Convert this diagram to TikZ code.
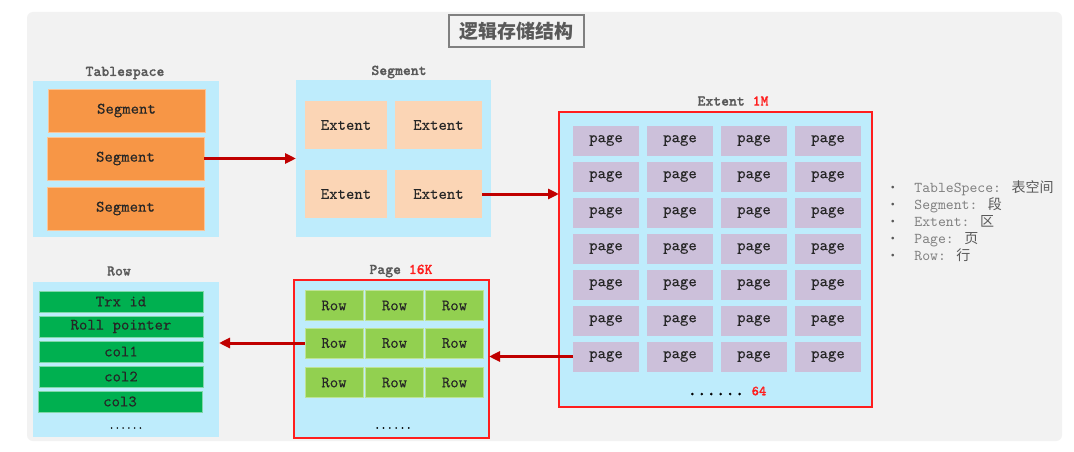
\documentclass[tikz,border=0pt]{standalone}
\usepackage{fontspec}
\newfontfamily\cjk{Noto Sans CJK SC}
\newfontfamily\itemmono{lmmono10-regular.otf}[FakeBold=0.15]
\newfontfamily\lgdmono{lmmono10-regular.otf}
\newfontfamily\lblmono{lmmonolt10-bold.otf}[FakeBold=0.8]
\usetikzlibrary{arrows.meta}

\definecolor{panelgray}{RGB}{242,242,242}
\definecolor{boxblue}{RGB}{190,236,252}
\definecolor{segorange}{RGB}{247,150,70}
\definecolor{extpeach}{RGB}{251,213,181}
\definecolor{pagepurple}{RGB}{204,192,218}
\definecolor{rowgreen}{RGB}{146,208,80}
\definecolor{fldgreen}{RGB}{0,176,80}
\definecolor{linkred}{RGB}{192,0,0}
\definecolor{framered}{RGB}{255,30,30}
\definecolor{lblgray}{RGB}{89,89,89}
\definecolor{lgdgray}{RGB}{128,128,128}
\definecolor{txtdark}{RGB}{38,38,38}

\tikzset{every picture/.style={line width=0.75pt}}
\tikzset{
  item/.style={inner sep=0pt, outer sep=0pt, text=txtdark, font=\itemmono\fontsize{16}{18}\selectfont},
  cont/.style={inner sep=0pt, outer sep=0pt, fill=boxblue},
  seg/.style={item, fill=segorange, draw=segorange!55!white, line width=0.6pt, minimum width=157pt, minimum height=43pt},
  ext/.style={item, fill=extpeach, minimum height=48pt},
  pg/.style={item, fill=pagepurple, minimum width=66pt, minimum height=30pt},
  rwbox/.style={item, fill=rowgreen, draw=rowgreen!60!white, line width=0.6pt, minimum width=58pt, minimum height=30pt},
  fld/.style={item, fill=fldgreen, draw=fldgreen!50!white, line width=0.6pt, minimum width=164pt, minimum height=21pt},
  lbl/.style={inner sep=0pt, text=lblgray, font=\lblmono\fontsize{15}{15}\selectfont},
  dots/.style={inner sep=0pt, text=black, font=\lblmono\fontsize{14}{14}\selectfont},
  link/.style={draw=linkred, line width=3pt, -{Triangle[length=11pt,width=10pt]}}
}

\begin{document}
\begin{tikzpicture}[x=1pt,y=1pt,yscale=-1,xscale=1]
\useasboundingbox (0,0) rectangle (1074,452);
\fill[white] (0,0) rectangle (1074,452);

%Panel
\fill[panelgray, rounded corners=6pt] (27,12) rectangle (1062,441);

% Title
\node[draw=lgdgray, line width=1.3pt, fill=panelgray, minimum width=135pt, minimum height=32pt, inner sep=0pt, text=lblgray, font=\cjk\bfseries\fontsize{19}{19}\selectfont] (ttl) at (516.5,31) {逻辑存储结构};

%Tablespace
\node[lbl] (tsl) at (125,73) {Tablespace};
\node[cont, minimum width=186pt, minimum height=156pt] (ts) at (126,159) {};
\node[seg] (s1) at (126.5,110.5) {Segment};
\node[seg] (s2) at (125.5,158.5) {Segment};
\node[seg] (s3) at (125.5,208.5) {Segment};

%Segment
\node[lbl] (sgl) at (399,72) {Segment};
\node[cont, minimum width=195pt, minimum height=157pt] (sg) at (393.5,158.5) {};
\node[ext, minimum width=82pt] (e1) at (346,125) {Extent};
\node[ext, minimum width=87pt] (e2) at (438.5,125) {Extent};
\node[ext, minimum width=82pt] (e3) at (346,194) {Extent};
\node[ext, minimum width=87pt] (e4) at (438.5,194) {Extent};

%Extent
\node[lbl] (exl) at (733,101) {Extent \textcolor{framered}{1M}};
\node[cont, draw=framered, line width=1.5pt, minimum width=313pt, minimum height=295pt] (ex) at (715.5,259.5) {};
\node[pg] (p11) at (606,140.5) {page};
\node[pg] (p12) at (680,140.5) {page};
\node[pg] (p13) at (754,140.5) {page};
\node[pg] (p14) at (828,140.5) {page};
\node[pg] (p21) at (606,176.5) {page};
\node[pg] (p22) at (680,176.5) {page};
\node[pg] (p23) at (754,176.5) {page};
\node[pg] (p24) at (828,176.5) {page};
\node[pg] (p31) at (606,212.5) {page};
\node[pg] (p32) at (680,212.5) {page};
\node[pg] (p33) at (754,212.5) {page};
\node[pg] (p34) at (828,212.5) {page};
\node[pg] (p41) at (606,248.5) {page};
\node[pg] (p42) at (680,248.5) {page};
\node[pg] (p43) at (754,248.5) {page};
\node[pg] (p44) at (828,248.5) {page};
\node[pg] (p51) at (606,284.5) {page};
\node[pg] (p52) at (680,284.5) {page};
\node[pg] (p53) at (754,284.5) {page};
\node[pg] (p54) at (828,284.5) {page};
\node[pg] (p61) at (606,320.5) {page};
\node[pg] (p62) at (680,320.5) {page};
\node[pg] (p63) at (754,320.5) {page};
\node[pg] (p64) at (828,320.5) {page};
\node[pg] (p71) at (606,356.5) {page};
\node[pg] (p72) at (680,356.5) {page};
\node[pg] (p73) at (754,356.5) {page};
\node[pg] (p74) at (828,356.5) {page};
\node[dots] (exd) at (727,391) {{\fontsize{18}{18}\selectfont ......}{\fontsize{14}{14}\selectfont\ \textcolor{framered}{64}}};

%Legend
\node[anchor=west, inner sep=0pt, text=lgdgray, font=\lgdmono\fontsize{15}{17}\selectfont] (lgd) at (886,223) {%
\begin{tabular}{@{}l@{\hspace{15pt}}l@{}}
\textcolor{lblgray}{\cjk\fontsize{13}{17}\selectfont •} & TableSpece: {\cjk\fontsize{14}{17}\selectfont\textcolor{lblgray}{表空间}}\\
\textcolor{lblgray}{\cjk\fontsize{13}{17}\selectfont •} & Segment: {\cjk\fontsize{14}{17}\selectfont\textcolor{lblgray}{段}}\\
\textcolor{lblgray}{\cjk\fontsize{13}{17}\selectfont •} & Extent: {\cjk\fontsize{14}{17}\selectfont\textcolor{lblgray}{区}}\\
\textcolor{lblgray}{\cjk\fontsize{13}{17}\selectfont •} & Page: {\cjk\fontsize{14}{17}\selectfont\textcolor{lblgray}{页}}\\
\textcolor{lblgray}{\cjk\fontsize{13}{17}\selectfont •} & Row: {\cjk\fontsize{14}{17}\selectfont\textcolor{lblgray}{行}}
\end{tabular}};

%Page
\node[lbl] (pgl) at (401,271) {Page \textcolor{framered}{16K}};
\node[cont, draw=framered, line width=1.5pt, minimum width=195pt, minimum height=158pt] (pgb) at (391.5,359) {};
\node[rwbox] (r11) at (334,305.5) {Row};
\node[rwbox] (r12) at (394.5,305.5) {Row};
\node[rwbox] (r13) at (454.5,305.5) {Row};
\node[rwbox] (r21) at (334,343) {Row};
\node[rwbox] (r22) at (394.5,343) {Row};
\node[rwbox] (r23) at (454.5,343) {Row};
\node[rwbox] (r31) at (334,382.5) {Row};
\node[rwbox] (r32) at (394.5,382.5) {Row};
\node[rwbox] (r33) at (454.5,382.5) {Row};
\node[dots, font=\lblmono\fontsize{12}{12}\selectfont] (pgd) at (393,428) {......};

%Row
\node[lbl] (rwl) at (119,271) {Row};
\node[cont, minimum width=186pt, minimum height=155pt] (rw) at (126,359.5) {};
\node[fld] (f1) at (121,301.5) {Trx id};
\node[fld] (f2) at (121,326.5) {Roll pointer};
\node[fld] (f3) at (121,351.5) {col1};
\node[fld] (f4) at (121,376.5) {col2};
\node[fld] (f5) at (120,401.5) {col3};
\node[dots, font=\lblmono\fontsize{11}{11}\selectfont] (rwd) at (126,428) {......};

% Connectors
\draw[link] (s2.east) -- (s2.east -| sg.west);
\draw[link] (e4.east) -- (e4.east -| ex.west);
\draw[link] (p71.west) -- (p71.west -| pgb.east);
\draw[link] (r21.west) -- (r21.west -| rw.east);
\end{tikzpicture}
\end{document}
